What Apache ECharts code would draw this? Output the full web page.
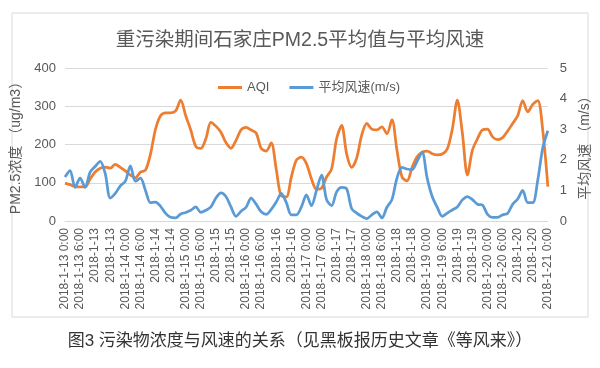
<!DOCTYPE html>
<html>
<head>
<meta charset="utf-8">
<script src="https://cdn.jsdelivr.net/npm/echarts@6/dist/echarts.min.js"></script>
<style>
html,body{margin:0;padding:0;background:#fff;}
#c{width:600px;height:368px;}
</style>
</head>
<body>
<div id="c"></div>
<script>
// Tick labels shown every 6 hours (as displayed in the reference)
const tickLabels = [
  "2018-1-13 0:00","2018-1-13 6:00","2018-1-13","2018-1-13",
  "2018-1-14 0:00","2018-1-14 6:00","2018-1-14","2018-1-14",
  "2018-1-15 0:00","2018-1-15 6:00","2018-1-15","2018-1-15",
  "2018-1-16 0:00","2018-1-16 6:00","2018-1-16","2018-1-16",
  "2018-1-17 0:00","2018-1-17 6:00","2018-1-17","2018-1-17",
  "2018-1-18 0:00","2018-1-18 6:00","2018-1-18","2018-1-18",
  "2018-1-19 0:00","2018-1-19 6:00","2018-1-19","2018-1-19",
  "2018-1-20 0:00","2018-1-20 6:00","2018-1-20","2018-1-20",
  "2018-1-21 0:00"
];
// Samples every 2 hours (3 samples per 6-hour tick)
const aqi = [
  99,95,90,89,89,110,128,138,141,138,
  148,140,131,120,113,128,133,175,240,275,
  283,283,288,316,275,238,195,190,215,258,
  248,232,205,190,211,238,245,238,230,190,
  183,204,135,65,63,115,159,167,150,110,
  83,86,115,136,215,250,175,140,165,225,
  255,240,238,246,228,265,185,115,105,140,
  168,180,183,176,173,175,188,240,316,230,
  120,185,215,238,240,220,213,218,235,255,
  275,315,285,305,315,235,90
];
const wind = [
  1.44,1.65,1.1,1.4,1.1,1.6,1.78,1.95,1.55,0.75,
  0.9,1.15,1.3,1.8,1.3,1.4,1.0,0.6,0.62,0.48,
  0.25,0.12,0.1,0.23,0.28,0.35,0.46,0.28,0.35,0.46,
  0.75,0.92,0.8,0.46,0.15,0.32,0.45,0.75,0.55,0.3,
  0.22,0.38,0.62,0.9,0.6,0.2,0.2,0.46,0.85,0.5,
  1.0,1.5,0.7,0.5,0.95,1.1,1.05,0.4,0.26,0.15,
  0.08,0.2,0.3,0.1,0.45,0.7,1.4,1.75,1.7,1.68,
  1.95,2.25,1.4,0.8,0.45,0.15,0.26,0.36,0.46,0.69,
  0.8,0.7,0.55,0.52,0.22,0.12,0.12,0.2,0.25,0.55,
  0.72,1.0,0.6,0.6,1.35,2.4,2.95
];
const seriesNames = ["AQI", "平均风速(m/s)"];
const titleText = "重污染期间石家庄PM2.5平均值与平均风速";
const captionText = "图3 污染物浓度与风速的关系（见黑板报历史文章《等风来》）";

const categories = aqi.map((_, i) => String(i));
const stepsPerTick = 3;

const chart = echarts.init(document.getElementById('c'), null, {renderer: 'canvas'});
const gray = '#595959';
const font = 'Liberation Sans, Arial, "Noto Sans CJK SC", sans-serif';
chart.setOption({
  animation: false,
  backgroundColor: '#fff',
  textStyle: {fontFamily: font},
  title: {
    text: titleText, left: 'center', top: 26,
    textStyle: {fontSize: 19.5, fontWeight: 'normal', color: gray, fontFamily: font}
  },
  legend: {
    left: 213, top: 76, itemGap: 20, itemWidth: 24, itemHeight: 3,
    icon: 'rect',
    textStyle: {fontSize: 13, color: gray, fontFamily: font},
    data: seriesNames
  },
  grid: {left: 65, right: 50, top: 68, bottom: 147},
  xAxis: {
    type: 'category', data: categories, boundaryGap: false,
    axisLine: {lineStyle: {color: '#d9d9d9'}},
    axisTick: {show: false},
    axisLabel: {
      interval: stepsPerTick - 1, rotate: 90, fontSize: 12, color: gray, margin: 7,
      formatter: (v, i) => tickLabels[Math.round(i / stepsPerTick)]
    }
  },
  yAxis: [{
    type: 'value', min: 0, max: 400, interval: 100,
    name: 'PM2.5浓度 （ug/m3）', nameLocation: 'middle', nameRotate: 90, nameGap: 27,
    nameTextStyle: {fontSize: 14, color: gray},
    axisLine: {show: false}, axisTick: {show: false},
    axisLabel: {fontSize: 13, color: gray, margin: 9},
    splitLine: {lineStyle: {color: '#d9d9d9'}}
  }, {
    type: 'value', min: 0, max: 5, interval: 1,
    name: '平均风速 （m/s）', nameLocation: 'middle', nameRotate: 90, nameGap: 17,
    nameTextStyle: {fontSize: 14, color: gray},
    axisLine: {show: false}, axisTick: {show: false},
    axisLabel: {fontSize: 13, color: gray, margin: 12},
    splitLine: {show: false}
  }],
  series: [{
    name: seriesNames[0], type: 'line', data: aqi, yAxisIndex: 0,
    showSymbol: false, smooth: 0.3,
    itemStyle: {color: '#ED7D31'},
    lineStyle: {color: '#ED7D31', width: 2.75}
  }, {
    name: seriesNames[1], type: 'line', data: wind, yAxisIndex: 1,
    showSymbol: false, smooth: 0.3,
    itemStyle: {color: '#5B9BD5'},
    lineStyle: {color: '#5B9BD5', width: 2.75}
  }],
  graphic: [{
    type: 'rect', shape: {x: 12, y: 13, width: 576, height: 304},
    style: {fill: null, stroke: '#d9d9d9', lineWidth: 1}, silent: true
  }, {
    type: 'text', left: 'center', top: 333,
    style: {text: captionText, fontSize: 17, fill: '#333', fontFamily: font}
  }]
});
</script>
</body>
</html>
